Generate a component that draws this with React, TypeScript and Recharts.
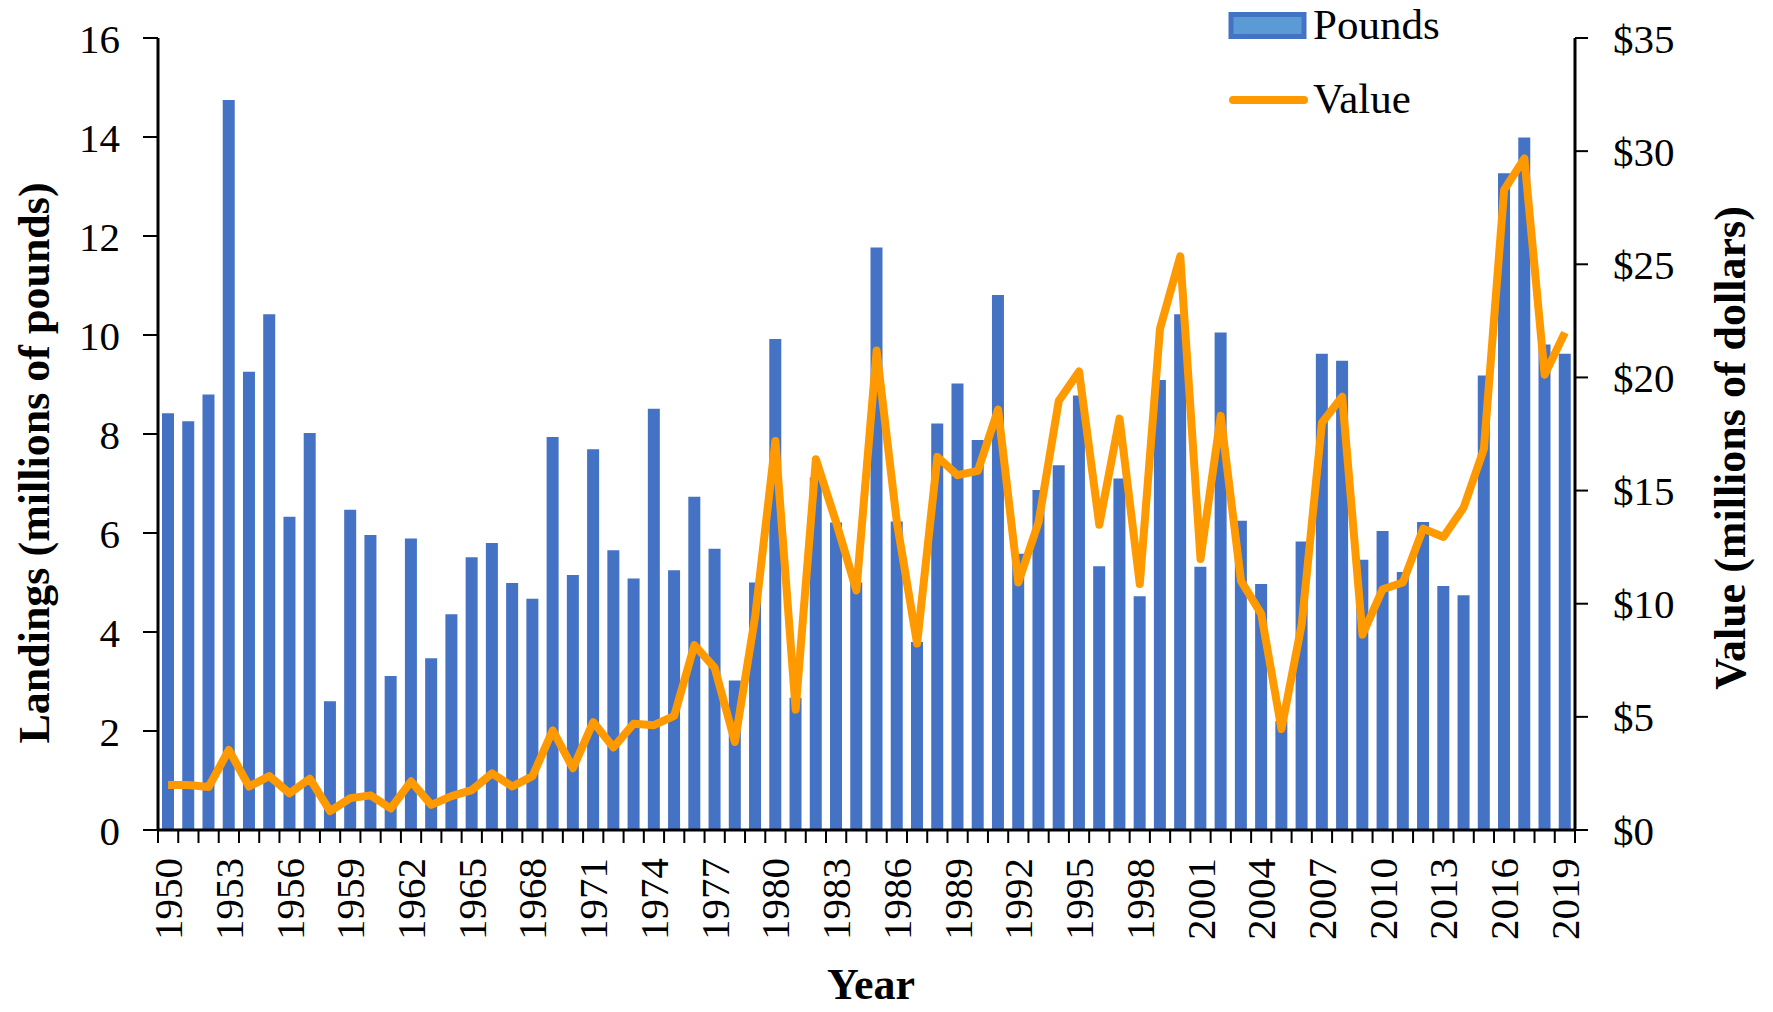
import { ComposedChart, Bar, Line, XAxis, YAxis, Legend, Label } from "recharts";

const years = [
  1950, 1951, 1952, 1953, 1954, 1955, 1956, 1957, 1958, 1959,
  1960, 1961, 1962, 1963, 1964, 1965, 1966, 1967, 1968, 1969,
  1970, 1971, 1972, 1973, 1974, 1975, 1976, 1977, 1978, 1979,
  1980, 1981, 1982, 1983, 1984, 1985, 1986, 1987, 1988, 1989,
  1990, 1991, 1992, 1993, 1994, 1995, 1996, 1997, 1998, 1999,
  2000, 2001, 2002, 2003, 2004, 2005, 2006, 2007, 2008, 2009,
  2010, 2011, 2012, 2013, 2014, 2015, 2016, 2017, 2018, 2019,
];

// landings, millions of pounds
const pounds = [
  8.42, 8.26, 8.8, 14.75, 9.26, 10.42, 6.33, 8.02, 2.6, 6.47,
  5.96, 3.11, 5.89, 3.47, 4.36, 5.51, 5.8, 4.99, 4.67, 7.94,
  5.15, 7.69, 5.65, 5.08, 8.51, 5.25, 6.73, 5.68, 3.02, 5.0,
  9.92, 2.67, 7.12, 6.21, 5.0, 11.77, 6.23, 3.8, 8.21, 9.02,
  7.88, 10.81, 5.58, 6.87, 7.37, 8.78, 5.33, 7.1, 4.72, 9.09,
  10.42, 5.32, 10.05, 6.25, 4.97, 2.2, 5.83, 9.62, 9.48, 5.46,
  6.04, 5.21, 6.22, 4.93, 4.74, 9.18, 13.27, 13.99, 9.81, 9.62,
];

// value, millions of dollars
const value = [
  1.99, 1.99, 1.9, 3.54, 1.92, 2.38, 1.62, 2.27, 0.83, 1.41,
  1.53, 0.95, 2.15, 1.11, 1.5, 1.76, 2.5, 1.92, 2.38, 4.4,
  2.73, 4.77, 3.65, 4.7, 4.63, 5.04, 8.17, 7.17, 3.89, 9.44,
  17.19, 5.32, 16.38, 13.6, 10.59, 21.19, 13.6, 8.24, 16.49, 15.68,
  15.87, 18.58, 10.94, 13.6, 18.97, 20.26, 13.49, 18.18, 10.87, 22.16,
  25.35, 11.98, 18.3, 11.01, 9.55, 4.46, 9.09, 18.0, 19.15, 8.63,
  10.64, 10.94, 13.32, 12.95, 14.25, 16.84, 28.29, 29.68, 20.12, 21.98,
];

const leftTicks = [0, 2, 4, 6, 8, 10, 12, 14, 16];
const rightTicks = [0, 5, 10, 15, 20, 25, 30, 35];

const data = years.map((year, i) => ({ year, pounds: pounds[i], value: value[i] }));

const FONT = "'Liberation Serif', 'Times New Roman', serif";
const BLUE = "#4472C4";
const ORANGE = "#FF9900";
const PLOT_LEFT = 158;
const PLOT_RIGHT = 1575;
const STEP = (PLOT_RIGHT - PLOT_LEFT) / years.length;

function YearTick(props: any) {
  const { x, y, payload, index } = props;
  const half = STEP / 2;
  const showLabel = (payload.value - years[0]) % 3 === 0;
  return (
    <g>
      <line x1={x - half} x2={x - half} y1={y} y2={y + 13} stroke="#000" strokeWidth={2} />
      {index === years.length - 1 && (
        <line x1={x + half} x2={x + half} y1={y} y2={y + 13} stroke="#000" strokeWidth={2} />
      )}
      {showLabel && (
        <text
          x={x}
          y={y + 28}
          transform={`rotate(-90, ${x}, ${y + 28})`}
          textAnchor="end"
          dominantBaseline="central"
          fontSize={41}
          fontFamily={FONT}
          fill="#000"
        >
          {payload.value}
        </text>
      )}
    </g>
  );
}

function LegendBox() {
  return (
    <svg width={260} height={130} style={{ fontFamily: FONT }}>
      <rect x={7} y={14.5} width={73} height={22} fill="#5B9BD5" stroke={BLUE} strokeWidth={5} />
      <text x={89} y={39} fontSize={43} fill="#000">Pounds</text>
      <line x1={9} x2={80} y1={100} y2={100} stroke={ORANGE} strokeWidth={8} strokeLinecap="round" />
      <text x={89} y={113} fontSize={43} fill="#000">Value</text>
    </svg>
  );
}

export default function App() {
  const tickStyle = { fill: "#000", fontSize: 41, fontFamily: FONT };
  return (
    <div style={{ width: 1773, height: 1012, fontFamily: FONT }}>
      <style>{"body{margin:0}"}</style>
      <ComposedChart
        width={1773}
        height={1012}
        data={data}
        margin={{ top: 38, right: 0, bottom: 0, left: 0 }}
        barCategoryGap="40%"
      >
        <XAxis
          dataKey="year"
          xAxisId={0}
          interval={0}
          height={182}
          tickSize={0}
          tickMargin={0}
          tickLine={false}
          axisLine={{ stroke: "#000", strokeWidth: 3 }}
          tick={<YearTick />}
        >
          <Label
            content={() => (
              <text x={871} y={999} textAnchor="middle" fontSize={44} fontWeight="bold" fontFamily={FONT} fill="#000">
                Year
              </text>
            )}
          />
        </XAxis>
        <YAxis
          yAxisId="left"
          orientation="left"
          width={PLOT_LEFT}
          domain={[0, 16]}
          ticks={leftTicks}
          interval={0}
          tickSize={15}
          tickMargin={23}
          axisLine={{ stroke: "#000", strokeWidth: 3 }}
          tickLine={{ stroke: "#000", strokeWidth: 2 }}
          tick={tickStyle}
        >
          <Label
            content={() => (
              <text
                x={34}
                y={463}
                transform="rotate(-90, 34, 463)"
                textAnchor="middle"
                dominantBaseline="central"
                fontSize={44}
                fontWeight="bold"
                fontFamily={FONT}
                fill="#000"
              >
                Landings (millions of pounds)
              </text>
            )}
          />
        </YAxis>
        <YAxis
          yAxisId="right"
          orientation="right"
          width={1773 - PLOT_RIGHT}
          domain={[0, 35]}
          ticks={rightTicks}
          interval={0}
          tickSize={13}
          tickMargin={25}
          tickFormatter={(v) => `$${v}`}
          axisLine={{ stroke: "#000", strokeWidth: 3 }}
          tickLine={{ stroke: "#000", strokeWidth: 2 }}
          tick={tickStyle}
        >
          <Label
            content={() => (
              <text
                x={1730}
                y={448}
                transform="rotate(-90, 1730, 448)"
                textAnchor="middle"
                dominantBaseline="central"
                fontSize={44}
                fontWeight="bold"
                fontFamily={FONT}
                fill="#000"
              >
                Value (millions of dollars)
              </text>
            )}
          />
        </YAxis>
        <Legend
          layout="vertical"
          verticalAlign="middle"
          align="center"
          wrapperStyle={{ position: "absolute", top: 0, left: 1224, width: 260, height: 130 }}
          content={() => <LegendBox />}
        />
        <Bar yAxisId="left" dataKey="pounds" name="Pounds" fill={BLUE} barSize={12} isAnimationActive={false} />
        <Line
          yAxisId="right"
          dataKey="value"
          name="Value"
          type="linear"
          stroke={ORANGE}
          strokeWidth={8}
          strokeLinejoin="round"
          dot={false}
          activeDot={false}
          isAnimationActive={false}
        />
      </ComposedChart>
    </div>
  );
}
